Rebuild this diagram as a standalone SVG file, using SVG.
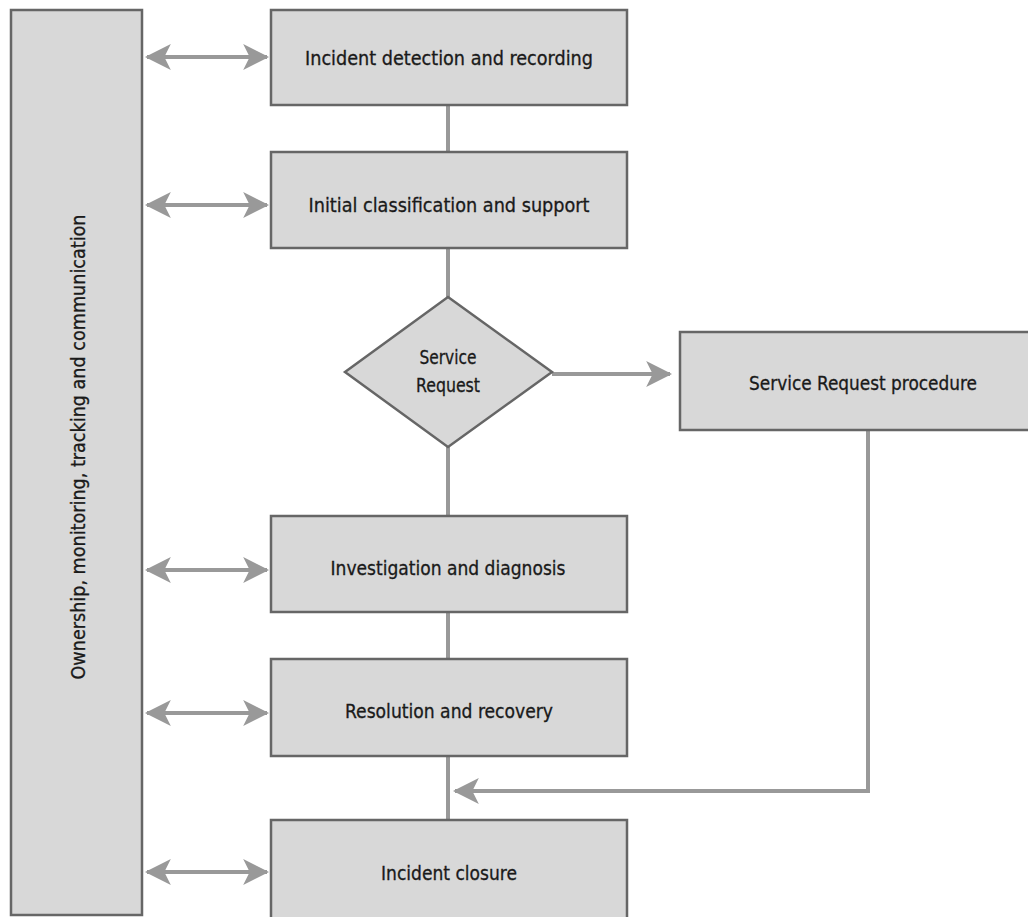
<svg xmlns="http://www.w3.org/2000/svg" width="1028" height="917" viewBox="0 0 1028 917">
<style>
.box{fill:#d8d8d8;stroke:#666;stroke-width:2.5}
.t{font-family:"DejaVu Sans Condensed","Liberation Sans Narrow","Liberation Sans",sans-serif;font-size:20px;fill:#1a1a1a;text-anchor:middle;stroke:#1a1a1a;stroke-width:0.3}
.ln{stroke:#999;stroke-width:4;fill:none}
</style>
<defs>
<marker id="a" viewBox="0 0 12 12" refX="11" refY="6" markerWidth="26" markerHeight="26" orient="auto-start-reverse" markerUnits="userSpaceOnUse">
<path d="M0,0 L12,6 L0,12 L3,6 Z" fill="#999"/>
</marker>
</defs>
<g id="connectors">
<line class="ln" x1="448" y1="105" x2="448" y2="152"/>
<line class="ln" x1="448" y1="248" x2="448" y2="297"/>
<line class="ln" x1="448" y1="447" x2="448" y2="516"/>
<line class="ln" x1="448" y1="612" x2="448" y2="659"/>
<line class="ln" x1="448" y1="756" x2="448" y2="820"/>
<line class="ln" x1="552" y1="374" x2="670" y2="374" marker-end="url(#a)"/>
<polyline class="ln" points="868,431 868,791 455,791" marker-end="url(#a)"/>
<line class="ln" x1="147" y1="57" x2="267" y2="57" marker-start="url(#a)" marker-end="url(#a)"/>
<line class="ln" x1="147" y1="205" x2="267" y2="205" marker-start="url(#a)" marker-end="url(#a)"/>
<line class="ln" x1="147" y1="570" x2="267" y2="570" marker-start="url(#a)" marker-end="url(#a)"/>
<line class="ln" x1="147" y1="713" x2="267" y2="713" marker-start="url(#a)" marker-end="url(#a)"/>
<line class="ln" x1="147" y1="872" x2="267" y2="872" marker-start="url(#a)" marker-end="url(#a)"/>
</g>
<g id="owner">
<rect class="box" x="11" y="10" width="131" height="905"/>
<text class="t" transform="translate(85,447) rotate(-90)" textLength="465" lengthAdjust="spacingAndGlyphs">Ownership, monitoring, tracking and communication</text>
</g>
<g id="detect">
<rect class="box" x="271" y="10" width="356" height="95"/>
<text class="t" x="449" y="65" textLength="288" lengthAdjust="spacingAndGlyphs">Incident detection and recording</text>
</g>
<g id="classify">
<rect class="box" x="271" y="152" width="356" height="96"/>
<text class="t" x="449" y="212" textLength="281" lengthAdjust="spacingAndGlyphs">Initial classification and support</text>
</g>
<g id="decision">
<polygon class="box" points="448,297 552,372 448,447 345,372"/>
<text class="t" x="448" y="364" textLength="57" lengthAdjust="spacingAndGlyphs">Service</text>
<text class="t" x="448" y="392" textLength="64" lengthAdjust="spacingAndGlyphs">Request</text>
</g>
<g id="srproc">
<rect class="box" x="680" y="332" width="360" height="98"/>
<text class="t" x="863" y="390" textLength="228" lengthAdjust="spacingAndGlyphs">Service Request procedure</text>
</g>
<g id="investigate">
<rect class="box" x="271" y="516" width="356" height="96"/>
<text class="t" x="448" y="575" textLength="235" lengthAdjust="spacingAndGlyphs">Investigation and diagnosis</text>
</g>
<g id="resolve">
<rect class="box" x="271" y="659" width="356" height="97"/>
<text class="t" x="449" y="718" textLength="208" lengthAdjust="spacingAndGlyphs">Resolution and recovery</text>
</g>
<g id="closure">
<rect class="box" x="271" y="820" width="356" height="100"/>
<text class="t" x="449" y="880" textLength="136" lengthAdjust="spacingAndGlyphs">Incident closure</text>
</g>
</svg>
